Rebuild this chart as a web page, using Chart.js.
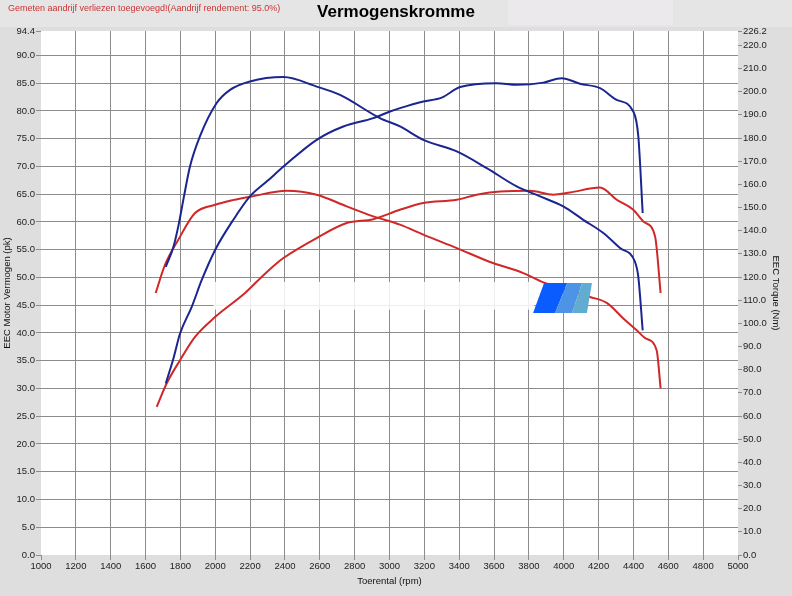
<!DOCTYPE html>
<html>
<head>
<meta charset="utf-8">
<script src="https://cdn.jsdelivr.net/npm/chart.js@4.4.1/dist/chart.umd.min.js"></script>
<style>
  html, body { margin: 0; padding: 0; background: #dedede; }
  canvas { display: block; }
</style>
</head>
<body>
<canvas id="chart" width="792" height="596"></canvas>
<script>
// axis ticks
const rpmTicks = [1000, 1200, 1400, 1600, 1800, 2000, 2200, 2400, 2600, 2800, 3000,
  3200, 3400, 3600, 3800, 4000, 4200, 4400, 4600, 4800, 5000];
const powerTicks = [0, 5, 10, 15, 20, 25, 30, 35, 40, 45, 50, 55, 60, 65, 70, 75, 80, 85, 90, 94.4];
const torqueTicks = [0, 10, 20, 30, 40, 50, 60, 70, 80, 90, 100, 110, 120, 130, 140, 150,
  160, 170, 180, 190, 200, 210, 220, 226.2];

// blue run: power (pk) and torque (Nm)
const bluePowerRpm = [1716, 1760, 1798, 1865, 1922, 2000, 2104, 2199, 2300, 2400, 2582, 2735,
  2907, 3003, 3060, 3194, 3300, 3405, 3615, 3730, 3883, 3988, 4093, 4208, 4304, 4399, 4428, 4453];
const bluePowerPk = [30.9, 35.4, 39.9, 44.7, 49.5, 55.0, 60.4, 64.6, 67.4, 70.2, 74.8, 77.2,
  78.7, 79.9, 80.5, 81.7, 82.4, 84.3, 85.0, 84.7, 85.1, 85.9, 84.9, 84.1, 82.0, 79.9, 75.4, 61.6];

const blueTorqueRpm = [1716, 1760, 1790, 1820, 1855, 1912, 2008, 2085, 2199, 2391, 2582, 2716,
  2945, 3060, 3194, 3386, 3558, 3730, 3864, 3997, 4112, 4227, 4323, 4409, 4428, 4453];
const blueTorqueNm = [124.4, 133.0, 142.6, 154.6, 167.7, 180.7, 195.1, 200.8, 204.4, 206.3, 202.2, 198.6,
  188.6, 185.0, 179.2, 174.2, 167.0, 159.1, 154.8, 150.5, 144.7, 139.0, 132.5, 126.5, 120.0, 97.0];

// red run: power (pk) and torque (Nm)
const redPowerRpm = [1664, 1721, 1798, 1884, 2000, 2171, 2266, 2343, 2391, 2582, 2754, 2907,
  3060, 3194, 3386, 3500, 3634, 3806, 3940, 4036, 4208, 4304, 4399, 4460, 4524, 4556];
const redPowerPk = [26.7, 30.9, 35.1, 39.3, 42.9, 47.2, 50.1, 52.3, 53.5, 57.1, 59.8, 60.5,
  62.2, 63.4, 64.0, 64.9, 65.5, 65.6, 64.9, 65.3, 66.2, 64.0, 62.2, 60.0, 57.4, 47.2];

const redTorqueRpm = [1658, 1712, 1788, 1884, 2000, 2100, 2209, 2410, 2582, 2754, 2907, 3060,
  3194, 3386, 3577, 3768, 3883, 4151, 4247, 4342, 4419, 4470, 4533, 4556];
const redTorqueNm = [113.1, 125.3, 136.1, 147.6, 151.2, 153.2, 154.8, 157.2, 155.5, 150.5, 146.2, 142.6,
  138.3, 132.5, 126.5, 121.7, 117.7, 111.4, 108.8, 102.1, 97.0, 93.5, 88.4, 71.9];

const BLUE = "#1b2590";
const RED = "#d02828";
const GRID = "#8c8c8c";
const FONT = "'Liberation Sans', Arial, sans-serif";
const NOTE = "Gemeten aandrijf verliezen toegevoegd!(Aandrijf rendement: 95.0%)";

const toPoints = (xs, ys) => xs.map((x, i) => ({ x, y: ys[i] }));

const curve = (data, color, axis) => ({
  data,
  yAxisID: axis,
  borderColor: color,
  borderWidth: 2,
  pointRadius: 0,
  fill: false,
  cubicInterpolationMode: "monotone",
});

const backdrop = {
  id: "backdrop",
  beforeDraw(chart) {
    const { ctx, chartArea: a, width, height } = chart;
    ctx.save();
    ctx.fillStyle = "#dedede";
    ctx.fillRect(0, 0, width, height);
    ctx.fillStyle = "#e5e5e5";
    ctx.fillRect(0, 0, width, 27);
    ctx.fillStyle = "#ebe9ec";
    ctx.fillRect(508, 0, 165, 25);
    ctx.fillStyle = "#fff";
    ctx.fillRect(a.left, a.top, a.right - a.left, a.bottom - a.top);
    ctx.fillStyle = "#cc3333";
    ctx.font = "9px " + FONT;
    ctx.textBaseline = "middle";
    ctx.fillText(NOTE, 8, 8.5);
    ctx.restore();
  },
  beforeDatasetsDraw(chart) {
    // washed-out watermark strip
    const { ctx, scales: { x, y } } = chart;
    ctx.save();
    ctx.fillStyle = "rgba(255,255,255,0.85)";
    const x0 = x.getPixelForValue(1990), x1 = x.getPixelForValue(3830);
    const y0 = y.getPixelForValue(49.2), y1 = y.getPixelForValue(44.2);
    ctx.fillRect(x0, y0, x1 - x0, y1 - y0);
    ctx.restore();
  },
  afterDatasetsDraw(chart) {
    // small logo
    const { ctx, scales: { x, y } } = chart;
    const top = y.getPixelForValue(49.0), bot = y.getPixelForValue(43.6);
    const band = (tl, tr, br, bl, color) => {
      ctx.beginPath();
      ctx.moveTo(x.getPixelForValue(tl), top);
      ctx.lineTo(x.getPixelForValue(tr), top);
      ctx.lineTo(x.getPixelForValue(br), bot);
      ctx.lineTo(x.getPixelForValue(bl), bot);
      ctx.closePath();
      ctx.fillStyle = color;
      ctx.fill();
    };
    ctx.save();
    band(3887, 4020, 3950, 3824, "#0a5cff");
    band(4020, 4105, 4048, 3950, "#4d94e6");
    band(4105, 4162, 4133, 4048, "#62acd2");
    ctx.restore();
  },
};

const edgeless = (first, last) => (c) =>
  c.tick && (c.tick.value === first || c.tick.value === last) ? "rgba(0,0,0,0)" : GRID;

new Chart(document.getElementById("chart"), {
  type: "line",
  data: {
    datasets: [
      curve(toPoints(bluePowerRpm, bluePowerPk), BLUE, "y"),
      curve(toPoints(blueTorqueRpm, blueTorqueNm), BLUE, "y2"),
      curve(toPoints(redPowerRpm, redPowerPk), RED, "y"),
      curve(toPoints(redTorqueRpm, redTorqueNm), RED, "y2"),
    ],
  },
  options: {
    responsive: false,
    animation: false,
    layout: { padding: 0 },
    plugins: {
      legend: { display: false },
      tooltip: { enabled: false },
      title: {
        display: true,
        text: "Vermogenskromme",
        color: "#000",
        font: { family: FONT, size: 17, weight: "bold" },
        padding: { top: 2, bottom: 8.6 },
      },
    },
    scales: {
      x: {
        type: "linear",
        position: "bottom",
        min: 1000,
        max: 5000,
        afterBuildTicks: (s) => { s.ticks = rpmTicks.map((v) => ({ value: v })); },
        afterFit: (s) => { s.height = 41; },
        border: { display: false },
        grid: { color: edgeless(1000, 5000), tickColor: GRID, tickLength: 5 },
        ticks: {
          autoSkip: false,
          maxRotation: 0,
          padding: 1,
          color: "#222",
          font: { family: FONT, size: 9.5 },
          callback: (v) => String(v),
        },
        title: {
          display: true,
          text: "Toerental (rpm)",
          color: "#111",
          font: { family: FONT, size: 9.5 },
          padding: { top: 0, bottom: 9 },
        },
      },
      y: {
        position: "left",
        min: 0,
        max: 94.4,
        afterBuildTicks: (s) => { s.ticks = powerTicks.map((v) => ({ value: v })); },
        afterFit: (s) => { s.width = 41; },
        border: { display: false },
        grid: { color: edgeless(0, 94.4), tickColor: GRID, tickLength: 5 },
        ticks: {
          padding: 1,
          color: "#222",
          font: { family: FONT, size: 9.5 },
          callback: (v) => Number(v).toFixed(1),
        },
        title: {
          display: true,
          text: "EEC Motor Vermogen (pk)",
          color: "#111",
          font: { family: FONT, size: 9.5 },
          padding: { top: 2, bottom: 0 },
        },
      },
      y2: {
        position: "right",
        min: 0,
        max: 226.2,
        afterBuildTicks: (s) => { s.ticks = torqueTicks.map((v) => ({ value: v })); },
        afterFit: (s) => { s.width = 54; },
        border: { display: false },
        grid: { drawOnChartArea: false, color: GRID, tickLength: 4 },
        ticks: {
          padding: 1,
          color: "#222",
          font: { family: FONT, size: 9.5 },
          callback: (v) => Number(v).toFixed(1),
        },
        title: {
          display: true,
          text: "EEC Torque (Nm)",
          color: "#111",
          font: { family: FONT, size: 9.5 },
          padding: { top: 11, bottom: 0 },
        },
      },
    },
  },
  plugins: [backdrop],
});
</script>
</body>
</html>
